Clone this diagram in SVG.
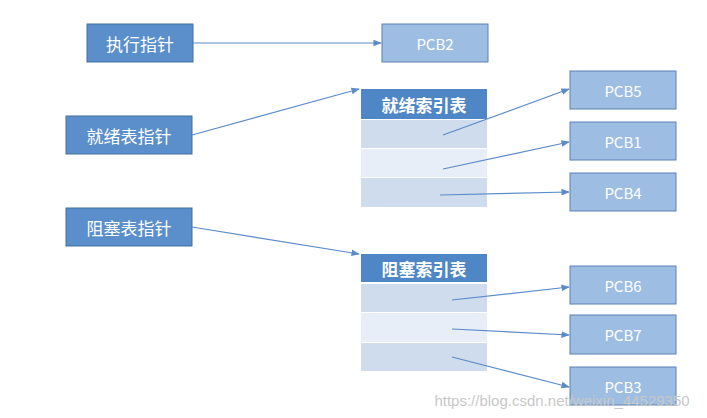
<svg xmlns="http://www.w3.org/2000/svg" width="707" height="418" viewBox="0 0 707 418">
<defs><marker id="a" viewBox="0 0 10 10" refX="9" refY="5" markerWidth="7" markerHeight="7" orient="auto"><path d="M0,1 L10,5 L0,9 z" fill="#5b8bc9"/></marker></defs>
<style>
.dk{fill:#5b8fcb;stroke:#41719c;stroke-width:1}
.lt{fill:#9dbde2;stroke:#5a82b5;stroke-width:1}
.hd{fill:#4f86c6}
.r1{fill:#cfdcee}.r2{fill:#e8eef7}
text{font-family:"Noto Sans CJK SC","Liberation Sans",sans-serif;fill:#fff;font-size:15px;text-anchor:middle;dominant-baseline:central}
.big{font-size:17px}
.c line{stroke:#5b8bc9;stroke-width:1.2;marker-end:url(#a)}
</style>
<rect width="707" height="418" fill="#fff"/>
<g id="n1"><rect class="dk" x="87" y="24" width="106" height="38"/><text class="big" x="140" y="43">执行指针</text></g>
<g id="n2"><rect class="dk" x="66" y="116" width="126" height="38"/><text class="big" x="129" y="135">就绪表指针</text></g>
<g id="n3"><rect class="dk" x="66" y="208" width="126" height="38"/><text class="big" x="129" y="227">阻塞表指针</text></g>
<g id="pcb2"><rect class="lt" x="382" y="24" width="106" height="38"/><text x="435" y="43">PCB2</text></g>
<g id="ready"><rect class="hd" x="361" y="89" width="126" height="30"/><text class="big" x="424" y="104" font-weight="bold">就绪索引表</text>
<rect class="r1" x="361" y="120" width="126" height="28"/><rect class="r2" x="361" y="149" width="126" height="28"/><rect class="r1" x="361" y="178" width="126" height="29"/></g>
<g id="block"><rect class="hd" x="361" y="254" width="126" height="28"/><text class="big" x="424" y="268" font-weight="bold">阻塞索引表</text>
<rect class="r1" x="361" y="284" width="126" height="28"/><rect class="r2" x="361" y="313" width="126" height="29"/><rect class="r1" x="361" y="343" width="126" height="28"/></g>
<g id="pcb5"><rect class="lt" x="570" y="71" width="106" height="38"/><text x="623" y="90">PCB5</text></g>
<g id="pcb1"><rect class="lt" x="570" y="122" width="106" height="38"/><text x="623" y="141">PCB1</text></g>
<g id="pcb4"><rect class="lt" x="570" y="173" width="106" height="38"/><text x="623" y="192">PCB4</text></g>
<g id="pcb6"><rect class="lt" x="570" y="266" width="106" height="38"/><text x="623" y="285">PCB6</text></g>
<g id="pcb7"><rect class="lt" x="570" y="315" width="106" height="39"/><text x="623" y="334">PCB7</text></g>
<g id="pcb3"><rect class="lt" x="570" y="367" width="106" height="38"/><text x="623" y="386">PCB3</text></g>
<g class="c">
<line x1="193" y1="43" x2="381" y2="43"/>
<line x1="192" y1="135" x2="359" y2="89"/>
<line x1="192" y1="227" x2="359" y2="254"/>
<line x1="443" y1="135" x2="569" y2="89"/>
<line x1="443" y1="169" x2="569" y2="142"/>
<line x1="440" y1="195" x2="569" y2="192"/>
<line x1="452" y1="300" x2="569" y2="287"/>
<line x1="452" y1="329" x2="569" y2="335"/>
<line x1="452" y1="357" x2="569" y2="387"/>
</g>
<text x="562" y="400" style="fill:#c8c8c8;font-family:'Liberation Sans',sans-serif;font-size:15px">https://blog.csdn.net/weixin_44529350</text>
</svg>
